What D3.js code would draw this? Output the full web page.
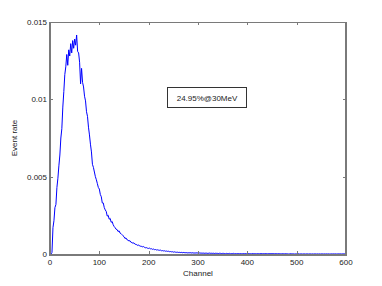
<!DOCTYPE html>
<html>
<head>
<meta charset="utf-8">
<script src="https://cdn.jsdelivr.net/npm/d3@7"></script>
<style>
  body { margin: 0; background: #fff; }
  text { font-family: "Liberation Sans", Arial, sans-serif; font-size: 8px; fill: #222; }
</style>
</head>
<body>
<div id="chart"></div>
<script>
// event rate per channel (step 2 channels), in units of 1e-5
var channelStep = 2;
var rateE5 = [
  0, 0, 10,
  170, 215, 300, 320, 430, 490, 570, 640, 750,
  810, 950, 1050, 1160, 1210, 1290, 1220, 1320, 1280,
  1360, 1300, 1380, 1330, 1390, 1350, 1416, 1310, 1300,
  1240, 1100, 1200, 1110, 1080, 1020, 990, 920, 890,
  820, 770, 710, 660, 580, 560, 530, 500, 480,
  455, 430, 420, 385, 370, 330, 330, 300, 285,
  275, 245, 250, 225, 230, 205, 210, 190, 178,
  170, 160, 158, 145, 150, 135, 132, 125, 118,
  112, 100, 104, 92, 90, 84, 86, 76, 74,
  70, 72, 64, 62, 60, 55, 58, 52, 50,
  49, 46, 48, 42, 40, 41, 37, 36, 38,
  33, 34, 30, 32, 28, 29, 26, 27, 25,
  24, 25, 21, 22, 20, 21, 18, 19, 17,
  18, 15, 16, 14, 15, 12, 14, 12, 11,
  12, 10, 11, 9, 11, 8, 10, 9, 8,
  9, 7, 8, 7, 9, 6, 8, 7, 6,
  7, 6, 8, 5, 6, 7, 5, 6, 5,
  6, 4, 6, 5, 4, 5, 6, 4, 5,
  4, 5, 3, 5, 4, 4, 3, 5, 4,
  3, 4, 4, 3, 2, 4, 3, 3, 4,
  2, 3, 3, 4, 2, 3, 2, 3, 3,
  2, 3, 2, 2, 3, 2, 3, 2, 2,
  3, 2, 2, 1, 3, 2, 2, 2, 1,
  2, 2, 1, 2, 3, 1, 2, 1, 2,
  2, 1, 1, 2, 1, 2, 1, 2, 1,
  1, 2, 1, 1, 2, 1, 1, 1, 2,
  1, 1, 2, 1, 1, 0, 1, 2, 1,
  1, 1, 0, 1, 1, 1, 2, 0, 1,
  1, 0, 1, 1, 0, 1, 1, 0, 1,
  1, 0, 1, 0, 1, 1, 0, 1, 0,
  1, 0, 1, 1, 0, 1, 0, 1, 0,
  1, 0, 0, 1, 0, 1, 0, 1, 0,
  0, 1, 0, 1, 0, 0, 1, 0, 1
];
var xTicks = [0, 100, 200, 300, 400, 500, 600];
var yTicks = [0, 0.005, 0.01, 0.015];
var yTickLabels = ["0", "0.005", "0.01", "0.015"];
var annotation = "24.95%@30MeV";

var data = rateE5.map(function(v, i) { return {ch: i * channelStep, rate: v / 1e5}; });

var W = 382, H = 286;
var box = {left: 50, right: 346, top: 22, bottom: 254};

var svg = d3.select("#chart").append("svg")
    .attr("width", W).attr("height", H);

var xScale = d3.scaleLinear().domain([0, 600]).range([box.left, box.right]);
var yScale = d3.scaleLinear().domain([0, 0.015]).range([box.bottom, box.top]);

// data line
var line = d3.line()
    .x(d => xScale(d.ch))
    .y(d => yScale(d.rate));
svg.append("path")
    .datum(data)
    .attr("d", line)
    .attr("fill", "none")
    .attr("stroke", "#0000ff")
    .attr("stroke-width", 1);

// axes box
var axisColor = "#7a7a7a";
svg.append("line").attr("x1", box.left).attr("x2", box.right).attr("y1", box.top + 0.5).attr("y2", box.top + 0.5)
    .attr("stroke", axisColor).attr("stroke-width", 1);
svg.append("line").attr("x1", box.left).attr("x2", box.right + 1).attr("y1", box.bottom + 1).attr("y2", box.bottom + 1)
    .attr("stroke", axisColor).attr("stroke-width", 2);
svg.append("line").attr("x1", box.left).attr("x2", box.left).attr("y1", box.top).attr("y2", box.bottom + 2)
    .attr("stroke", axisColor).attr("stroke-width", 2);
svg.append("line").attr("x1", box.right).attr("x2", box.right).attr("y1", box.top).attr("y2", box.bottom + 2)
    .attr("stroke", axisColor).attr("stroke-width", 2);

// ticks (inward, all four sides)
xTicks.slice(1, -1).forEach(function(t) {
    var x = Math.round(xScale(t)) + 0.5;
    svg.append("line").attr("x1", x).attr("x2", x).attr("y1", box.bottom).attr("y2", box.bottom - 3).attr("stroke", axisColor);
    svg.append("line").attr("x1", x).attr("x2", x).attr("y1", box.top).attr("y2", box.top + 3).attr("stroke", axisColor);
});
yTicks.slice(1, -1).forEach(function(t) {
    var y = Math.round(yScale(t)) + 0.5;
    svg.append("line").attr("x1", box.left).attr("x2", box.left + 3).attr("y1", y).attr("y2", y).attr("stroke", axisColor);
    svg.append("line").attr("x1", box.right).attr("x2", box.right - 3).attr("y1", y).attr("y2", y).attr("stroke", axisColor);
});

// tick labels
svg.selectAll("text.xt").data(xTicks).enter().append("text")
    .attr("class", "xt")
    .attr("x", d => xScale(d))
    .attr("y", box.bottom + 11)
    .attr("text-anchor", "middle")
    .text(d => d);
svg.selectAll("text.yt").data(yTicks).enter().append("text")
    .attr("class", "yt")
    .attr("x", box.left - 3)
    .attr("y", d => yScale(d) + 3)
    .attr("text-anchor", "end")
    .text((d, i) => yTickLabels[i]);

// axis labels
svg.append("text")
    .attr("x", (box.left + box.right) / 2)
    .attr("y", 276)
    .attr("text-anchor", "middle")
    .text("Channel");
svg.append("text")
    .attr("transform", "translate(17," + ((box.top + box.bottom) / 2) + ") rotate(-90)")
    .attr("text-anchor", "middle")
    .text("Event rate");

// annotation box
var ann = svg.append("g").attr("transform", "translate(167,87)");
ann.append("rect").attr("x", 0.5).attr("y", 0.5).attr("width", 79).attr("height", 20)
    .attr("fill", "#fff").attr("stroke", "#333").attr("stroke-width", 1);
ann.append("text").attr("x", 40).attr("y", 13.5).attr("text-anchor", "middle").text(annotation);
</script>
</body>
</html>
